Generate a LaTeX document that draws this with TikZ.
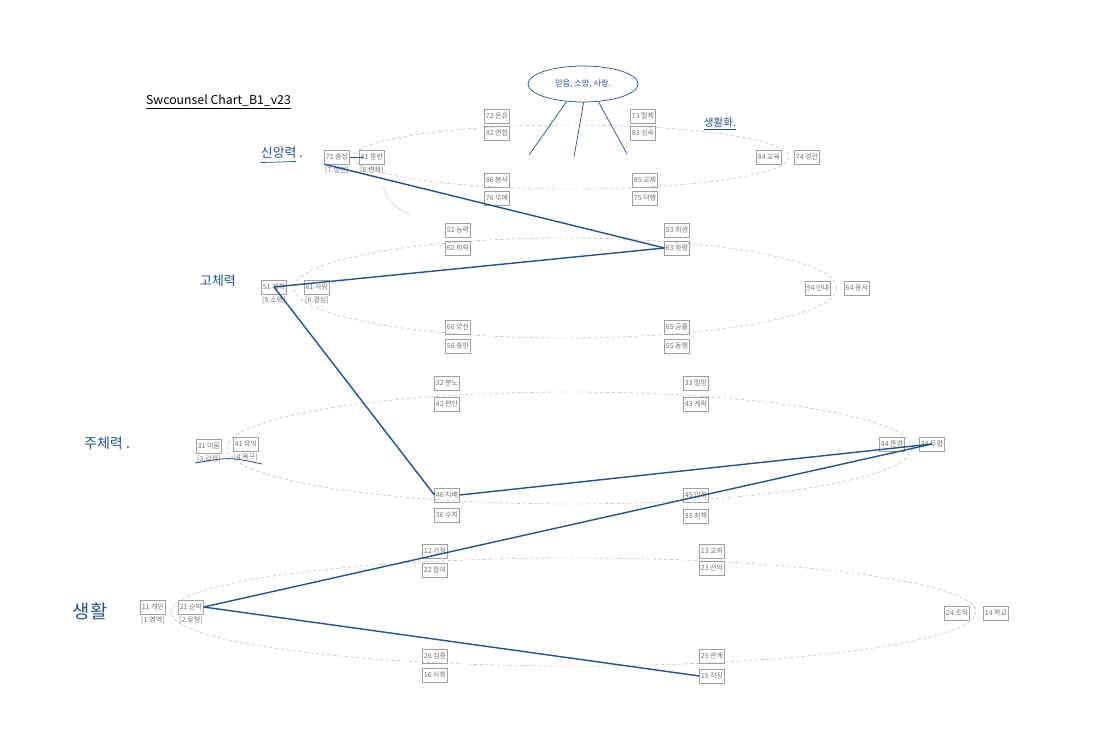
\documentclass[tikz,border=0pt]{standalone}
\usepackage{fontspec}
\setmainfont{Noto Sans CJK KR}
\usetikzlibrary{positioning,shapes.geometric}
\definecolor{pen}{RGB}{31,84,140}
\definecolor{boxgray}{RGB}{160,160,160}
\definecolor{txtgray}{RGB}{115,115,115}

\begin{document}
\begin{tikzpicture}[x=0.03cm, y=-0.03cm,
    lbl/.style={rectangle, draw=boxgray, line width=0.4pt, text=txtgray,
        font=\fontsize{6}{7}\selectfont, inner xsep=1pt, inner ysep=0pt, minimum height=12pt},
    sub/.style={text=txtgray, font=\fontsize{6}{7}\selectfont, inner sep=0pt},
    ring/.style={draw=gray!70, dash pattern=on 3pt off 2pt, line width=0.3pt},
    route/.style={draw=pen, line width=1.2pt},
    hand/.style={text=pen, inner sep=0pt}]
    \useasboundingbox (0,0) rectangle (1120,737);

    \node (title) [anchor=west, font=\fontsize{10.5}{12}\selectfont] at (142,102) {\underline{Swcounsel Chart\_B1\_v23}};

    % rings
    \draw[ring] (571.5,157) ellipse [x radius=217.5, y radius=32];
    \draw[ring] (565.5,288) ellipse [x radius=271.5, y radius=50];
    \draw[ring] (569.5,448) ellipse [x radius=342.5, y radius=56];
    \draw[ring] (573.5,612) ellipse [x radius=402.5, y radius=54];

    % level 7/8
    \node (n71) [lbl] at (337,157) {71 충성};
    \node (n81) [lbl] at (372,157) {81 훈련};
    \node (s7) [sub, below=2pt of n71] {[7.실천]};
    \node (s8) [sub, below=2pt of n81] {[8.변화]};
    \node (n72) [lbl] at (497,116) {72 온유};
    \node (n82) [lbl] at (497,133) {82 연합};
    \node (n73) [lbl] at (643,116) {73 절제};
    \node (n83) [lbl] at (643,133) {83 성숙};
    \node (n86) [lbl] at (497,180) {86 봉사};
    \node (n76) [lbl] at (497,198) {76 우애};
    \node (n85) [lbl] at (645,180) {85 교제};
    \node (n75) [lbl] at (645,198) {75 덕행};
    \node (n84) [lbl] at (769,157) {84 교육};
    \node (n74) [lbl] at (807,157) {74 경건};

    % level 5/6
    \node (n51) [lbl] at (274,287) {51 계획};
    \node (n61) [lbl] at (317,287) {61 사랑};
    \node (s5) [sub, below=2pt of n51] {[5.소명]};
    \node (s6) [sub, below=2pt of n61] {[6.결심]};
    \node (n52) [lbl] at (458,230) {52 능력};
    \node (n62) [lbl] at (458,248) {62 희락};
    \node (n53) [lbl] at (677,230) {53 희생};
    \node (n63) [lbl] at (677,248) {63 화평};
    \node (n66) [lbl] at (458,327) {66 양선};
    \node (n56) [lbl] at (458,346) {56 충만};
    \node (n65) [lbl] at (677,327) {65 긍휼};
    \node (n55) [lbl] at (677,346) {55 동행};
    \node (n54) [lbl] at (818,288) {54 인내};
    \node (n64) [lbl] at (857,288) {64 용서};

    % level 3/4
    \node (n31) [lbl] at (209,446) {31 미움};
    \node (n41) [lbl] at (246,444) {41 유익};
    \node (s3) [sub, below=2pt of n31] {[3.감정]};
    \node (s4) [sub, below=2pt of n41] {[4.욕구]};
    \node (n32) [lbl] at (447,383) {32 분노};
    \node (n42) [lbl] at (447,404) {42 편안};
    \node (n33) [lbl] at (696,383) {33 절망};
    \node (n43) [lbl] at (696,404) {43 계략};
    \node (n44) [lbl] at (892,444) {44 존경};
    \node (n34) [lbl] at (932,444) {34 두렵};
    \node (n46) [lbl] at (447,495) {46 지배};
    \node (n36) [lbl] at (447,515) {36 수치};
    \node (n45) [lbl] at (696,495) {45 인정};
    \node (n35) [lbl] at (696,516) {35 죄책};

    % level 1/2
    \node (n11) [lbl] at (153,607) {11 개인};
    \node (n21) [lbl] at (191,607) {21 순박};
    \node (s1) [sub, below=2pt of n11] {[1.영역]};
    \node (s2) [sub, below=2pt of n21] {[2.유형]};
    \node (n12) [lbl] at (435,551) {12 가정};
    \node (n22) [lbl] at (435,570) {22 합의};
    \node (n13) [lbl] at (712,551) {13 교회};
    \node (n23) [lbl] at (712,568) {23 선악};
    \node (n24) [lbl] at (957,613) {24 조직};
    \node (n14) [lbl] at (996,613) {14 학교};
    \node (n26) [lbl] at (435,656) {26 심층};
    \node (n16) [lbl] at (435,675) {16 사회};
    \node (n25) [lbl] at (712,656) {25 관계};
    \node (n15) [lbl] at (712,676) {15 직장};

    % hand notes
    \node (cloud) [ellipse, draw=pen, line width=0.6pt, minimum width=110*0.03cm, minimum height=36*0.03cm,
        hand, font=\fontsize{7}{8}\selectfont] at (583,84) {믿음, 소망, 사랑.};
    \coordinate (f1) at (529,155);
    \coordinate (f2) at (574,157);
    \coordinate (f3) at (627,154);
    \draw[pen, line width=0.6pt] (cloud.227) -- (f1);
    \draw[pen, line width=0.6pt] (cloud.272) -- (f2);
    \draw[pen, line width=0.6pt] (cloud.311) -- (f3);
    \node (h7) [hand, font=\fontsize{11}{12}\selectfont] at (282,153) {신앙력 .};
    \draw[pen, line width=0.6pt] ([yshift=-3pt]h7.south west) -- ([xshift=-6pt,yshift=-2pt]h7.south east);
    \node (h8) [hand, font=\fontsize{9}{10}\selectfont] at (720,123) {생활화.};
    \draw[pen, line width=0.6pt] ([yshift=-1pt]h8.south west) -- ([yshift=-1pt]h8.south east);
    \node (h5) [hand, font=\fontsize{11}{12}\selectfont] at (218,281) {고체력};
    \node (h3) [hand, font=\fontsize{12}{13}\selectfont] at (107,443) {주체력 .};
    \node (h1) [hand, font=\fontsize{16}{17}\selectfont] at (90,611) {생활};
    \draw[pen, line width=0.7pt] (195,463) .. controls (230,457) .. (262,464);
    \draw[gray!45, line width=0.4pt] (383,187) .. controls (390,203) .. (410,215);

    % path through the levels
    \draw[route, line width=0.8pt] (n71.east) -- ([xshift=3pt]n81.west);
    \draw[route] (n71.south west) -- (n63.west);
    \draw[route] (n63.west) -- (n51.center);
    \draw[route] (n51.center) -- (n46.west);
    \draw[route] (n46.east) -- (n34.center);
    \draw[route] (n34.center) -- (n21.east);
    \draw[route] (n21.east) -- (n15.west);
\end{tikzpicture}
\end{document}
